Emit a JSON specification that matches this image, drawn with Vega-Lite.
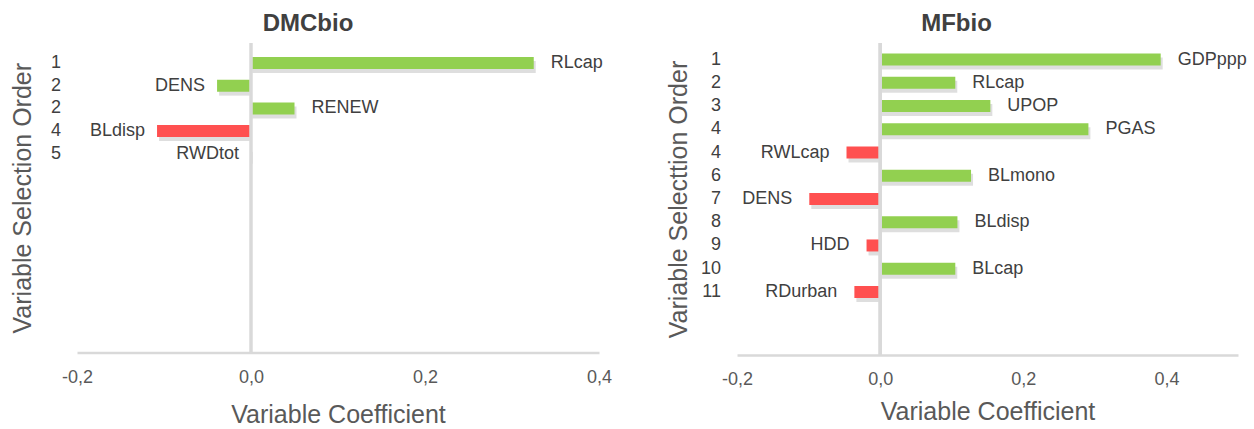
{
  "$schema": "https://vega.github.io/schema/vega-lite/v6.json",
  "background": "white",
  "padding": {"left": 10, "top": 11, "right": 0, "bottom": 0},
  "autosize": {"type": "pad"},
  "spacing": 54,
  "config": {
    "view": {"stroke": null},
    "font": "Liberation Sans",
    "title": {"fontSize": 24, "fontWeight": "bold", "color": "#404040", "anchor": "middle", "offset": 6}
  },
  "datasets": {
    "dmc": [
      {"pos": 1, "order": "1", "variable": "RLcap", "value": 0.325, "effect": "positive"},
      {"pos": 2, "order": "2", "variable": "DENS", "value": -0.039, "effect": "positive"},
      {"pos": 3, "order": "2", "variable": "RENEW", "value": 0.05, "effect": "positive"},
      {"pos": 4, "order": "4", "variable": "BLdisp", "value": -0.108, "effect": "negative"},
      {"pos": 5, "order": "5", "variable": "RWDtot", "value": 0, "effect": "positive"}
    ],
    "mf": [
      {"pos": 1, "order": "1", "variable": "GDPppp", "value": 0.392, "effect": "positive"},
      {"pos": 2, "order": "2", "variable": "RLcap", "value": 0.105, "effect": "positive"},
      {"pos": 3, "order": "3", "variable": "UPOP", "value": 0.154, "effect": "positive"},
      {"pos": 4, "order": "4", "variable": "PGAS", "value": 0.291, "effect": "positive"},
      {"pos": 5, "order": "4", "variable": "RWLcap", "value": -0.047, "effect": "negative"},
      {"pos": 6, "order": "6", "variable": "BLmono", "value": 0.127, "effect": "positive"},
      {"pos": 7, "order": "7", "variable": "DENS", "value": -0.099, "effect": "negative"},
      {"pos": 8, "order": "8", "variable": "BLdisp", "value": 0.108, "effect": "positive"},
      {"pos": 9, "order": "9", "variable": "HDD", "value": -0.019, "effect": "negative"},
      {"pos": 10, "order": "10", "variable": "BLcap", "value": 0.105, "effect": "positive"},
      {"pos": 11, "order": "11", "variable": "RDurban", "value": -0.036, "effect": "negative"}
    ]
  },
  "hconcat": [
    {
      "width": 522,
      "height": 309.4,
      "title": {"text": "DMCbio", "dx": -30},
      "data": {"name": "dmc"},
      "layer": [
        {
          "mark": {"type": "bar", "color": "#000000", "opacity": 0.13, "size": 12, "xOffset": 2, "yOffset": 4},
          "encoding": {
            "y": {"field": "pos", "type": "quantitative", "scale": {"domain": [0.345, 13.51], "reverse": true, "nice": false, "zero": false},
              "axis": {"title": "Variable Selection Order", "labels": false, "ticks": false, "tickSize": 0, "domain": false, "grid": false, "titleFontSize": 25, "titleFontWeight": "normal", "titleColor": "#595959", "titlePadding": 42}},
            "x": {"field": "value", "type": "quantitative", "scale": {"domain": [-0.2, 0.4], "nice": false},
              "axis": {"values": [-0.2, 0, 0.2, 0.4], "labelExpr": "replace(replace(format(datum.value, '.1f'), '.', ','), '\u2212', '-')", "title": "Variable Coefficient", "grid": false, "ticks": false, "tickSize": 0, "domainColor": "#D9D9D9", "domainWidth": 2.5, "labelFontSize": 18, "labelColor": "#595959", "labelPadding": 16, "labelFlush": false, "titleFontSize": 25, "titleFontWeight": "normal", "titleColor": "#595959", "titlePadding": 16}},
            "x2": {"datum": 0}
          }
        },
        {
          "mark": {"type": "bar", "size": 12},
          "encoding": {
            "y": {"field": "pos", "type": "quantitative"},
            "x": {"field": "value", "type": "quantitative"},
            "x2": {"datum": 0},
            "color": {"field": "effect", "type": "nominal", "scale": {"domain": ["positive", "negative"], "range": ["#92D050", "#FF5050"]}, "legend": null}
          }
        },
        {
          "mark": {"type": "rule", "color": "#D9D9D9", "strokeWidth": 2.5},
          "encoding": {"x": {"datum": 0}}
        },
        {
          "transform": [{"filter": "datum.value > 0"}],
          "mark": {"type": "text", "align": "left", "baseline": "middle", "dx": 17, "fontSize": 18, "color": "#404040"},
          "encoding": {
            "y": {"field": "pos", "type": "quantitative"},
            "x": {"field": "value", "type": "quantitative"},
            "text": {"field": "variable"}
          }
        },
        {
          "transform": [{"filter": "datum.value <= 0"}],
          "mark": {"type": "text", "align": "right", "baseline": "middle", "dx": -12, "fontSize": 18, "color": "#404040"},
          "encoding": {
            "y": {"field": "pos", "type": "quantitative"},
            "x": {"field": "value", "type": "quantitative"},
            "text": {"field": "variable"}
          }
        },
        {
          "mark": {"type": "text", "align": "right", "baseline": "middle", "dx": -16, "fontSize": 18, "color": "#404040"},
          "encoding": {
            "y": {"field": "pos", "type": "quantitative"},
            "x": {"datum": -0.2},
            "text": {"field": "order"}
          }
        }
      ]
    },
    {
      "width": 501,
      "height": 312,
      "title": {"text": "MFbio", "dx": -31},
      "data": {"name": "mf"},
      "layer": [
        {
          "mark": {"type": "bar", "color": "#000000", "opacity": 0.13, "size": 12, "xOffset": 2, "yOffset": 4},
          "encoding": {
            "y": {"field": "pos", "type": "quantitative", "scale": {"domain": [0.5, 13.5], "reverse": true, "nice": false, "zero": false},
              "axis": {"title": "Variable Selecttion Order", "labels": false, "ticks": false, "tickSize": 0, "domain": false, "grid": false, "titleFontSize": 25, "titleFontWeight": "normal", "titleColor": "#595959", "titlePadding": 46}},
            "x": {"field": "value", "type": "quantitative", "scale": {"domain": [-0.2, 0.5], "nice": false},
              "axis": {"values": [-0.2, 0, 0.2, 0.4], "labelExpr": "replace(replace(format(datum.value, '.1f'), '.', ','), '\u2212', '-')", "title": "Variable Coefficient", "grid": false, "ticks": false, "tickSize": 0, "domainColor": "#D9D9D9", "domainWidth": 2.5, "labelFontSize": 18, "labelColor": "#595959", "labelPadding": 15, "labelFlush": false, "titleFontSize": 25, "titleFontWeight": "normal", "titleColor": "#595959", "titlePadding": 11}},
            "x2": {"datum": 0}
          }
        },
        {
          "mark": {"type": "bar", "size": 12},
          "encoding": {
            "y": {"field": "pos", "type": "quantitative"},
            "x": {"field": "value", "type": "quantitative"},
            "x2": {"datum": 0},
            "color": {"field": "effect", "type": "nominal", "scale": {"domain": ["positive", "negative"], "range": ["#92D050", "#FF5050"]}, "legend": null}
          }
        },
        {
          "mark": {"type": "rule", "color": "#D9D9D9", "strokeWidth": 2.5},
          "encoding": {"x": {"datum": 0}}
        },
        {
          "transform": [{"filter": "datum.value > 0"}],
          "mark": {"type": "text", "align": "left", "baseline": "middle", "dx": 17, "fontSize": 18, "color": "#404040"},
          "encoding": {
            "y": {"field": "pos", "type": "quantitative"},
            "x": {"field": "value", "type": "quantitative"},
            "text": {"field": "variable"}
          }
        },
        {
          "transform": [{"filter": "datum.value <= 0"}],
          "mark": {"type": "text", "align": "right", "baseline": "middle", "dx": -17, "fontSize": 18, "color": "#404040"},
          "encoding": {
            "y": {"field": "pos", "type": "quantitative"},
            "x": {"field": "value", "type": "quantitative"},
            "text": {"field": "variable"}
          }
        },
        {
          "mark": {"type": "text", "align": "right", "baseline": "middle", "dx": -16, "fontSize": 18, "color": "#404040"},
          "encoding": {
            "y": {"field": "pos", "type": "quantitative"},
            "x": {"datum": -0.2},
            "text": {"field": "order"}
          }
        }
      ]
    }
  ]
}
